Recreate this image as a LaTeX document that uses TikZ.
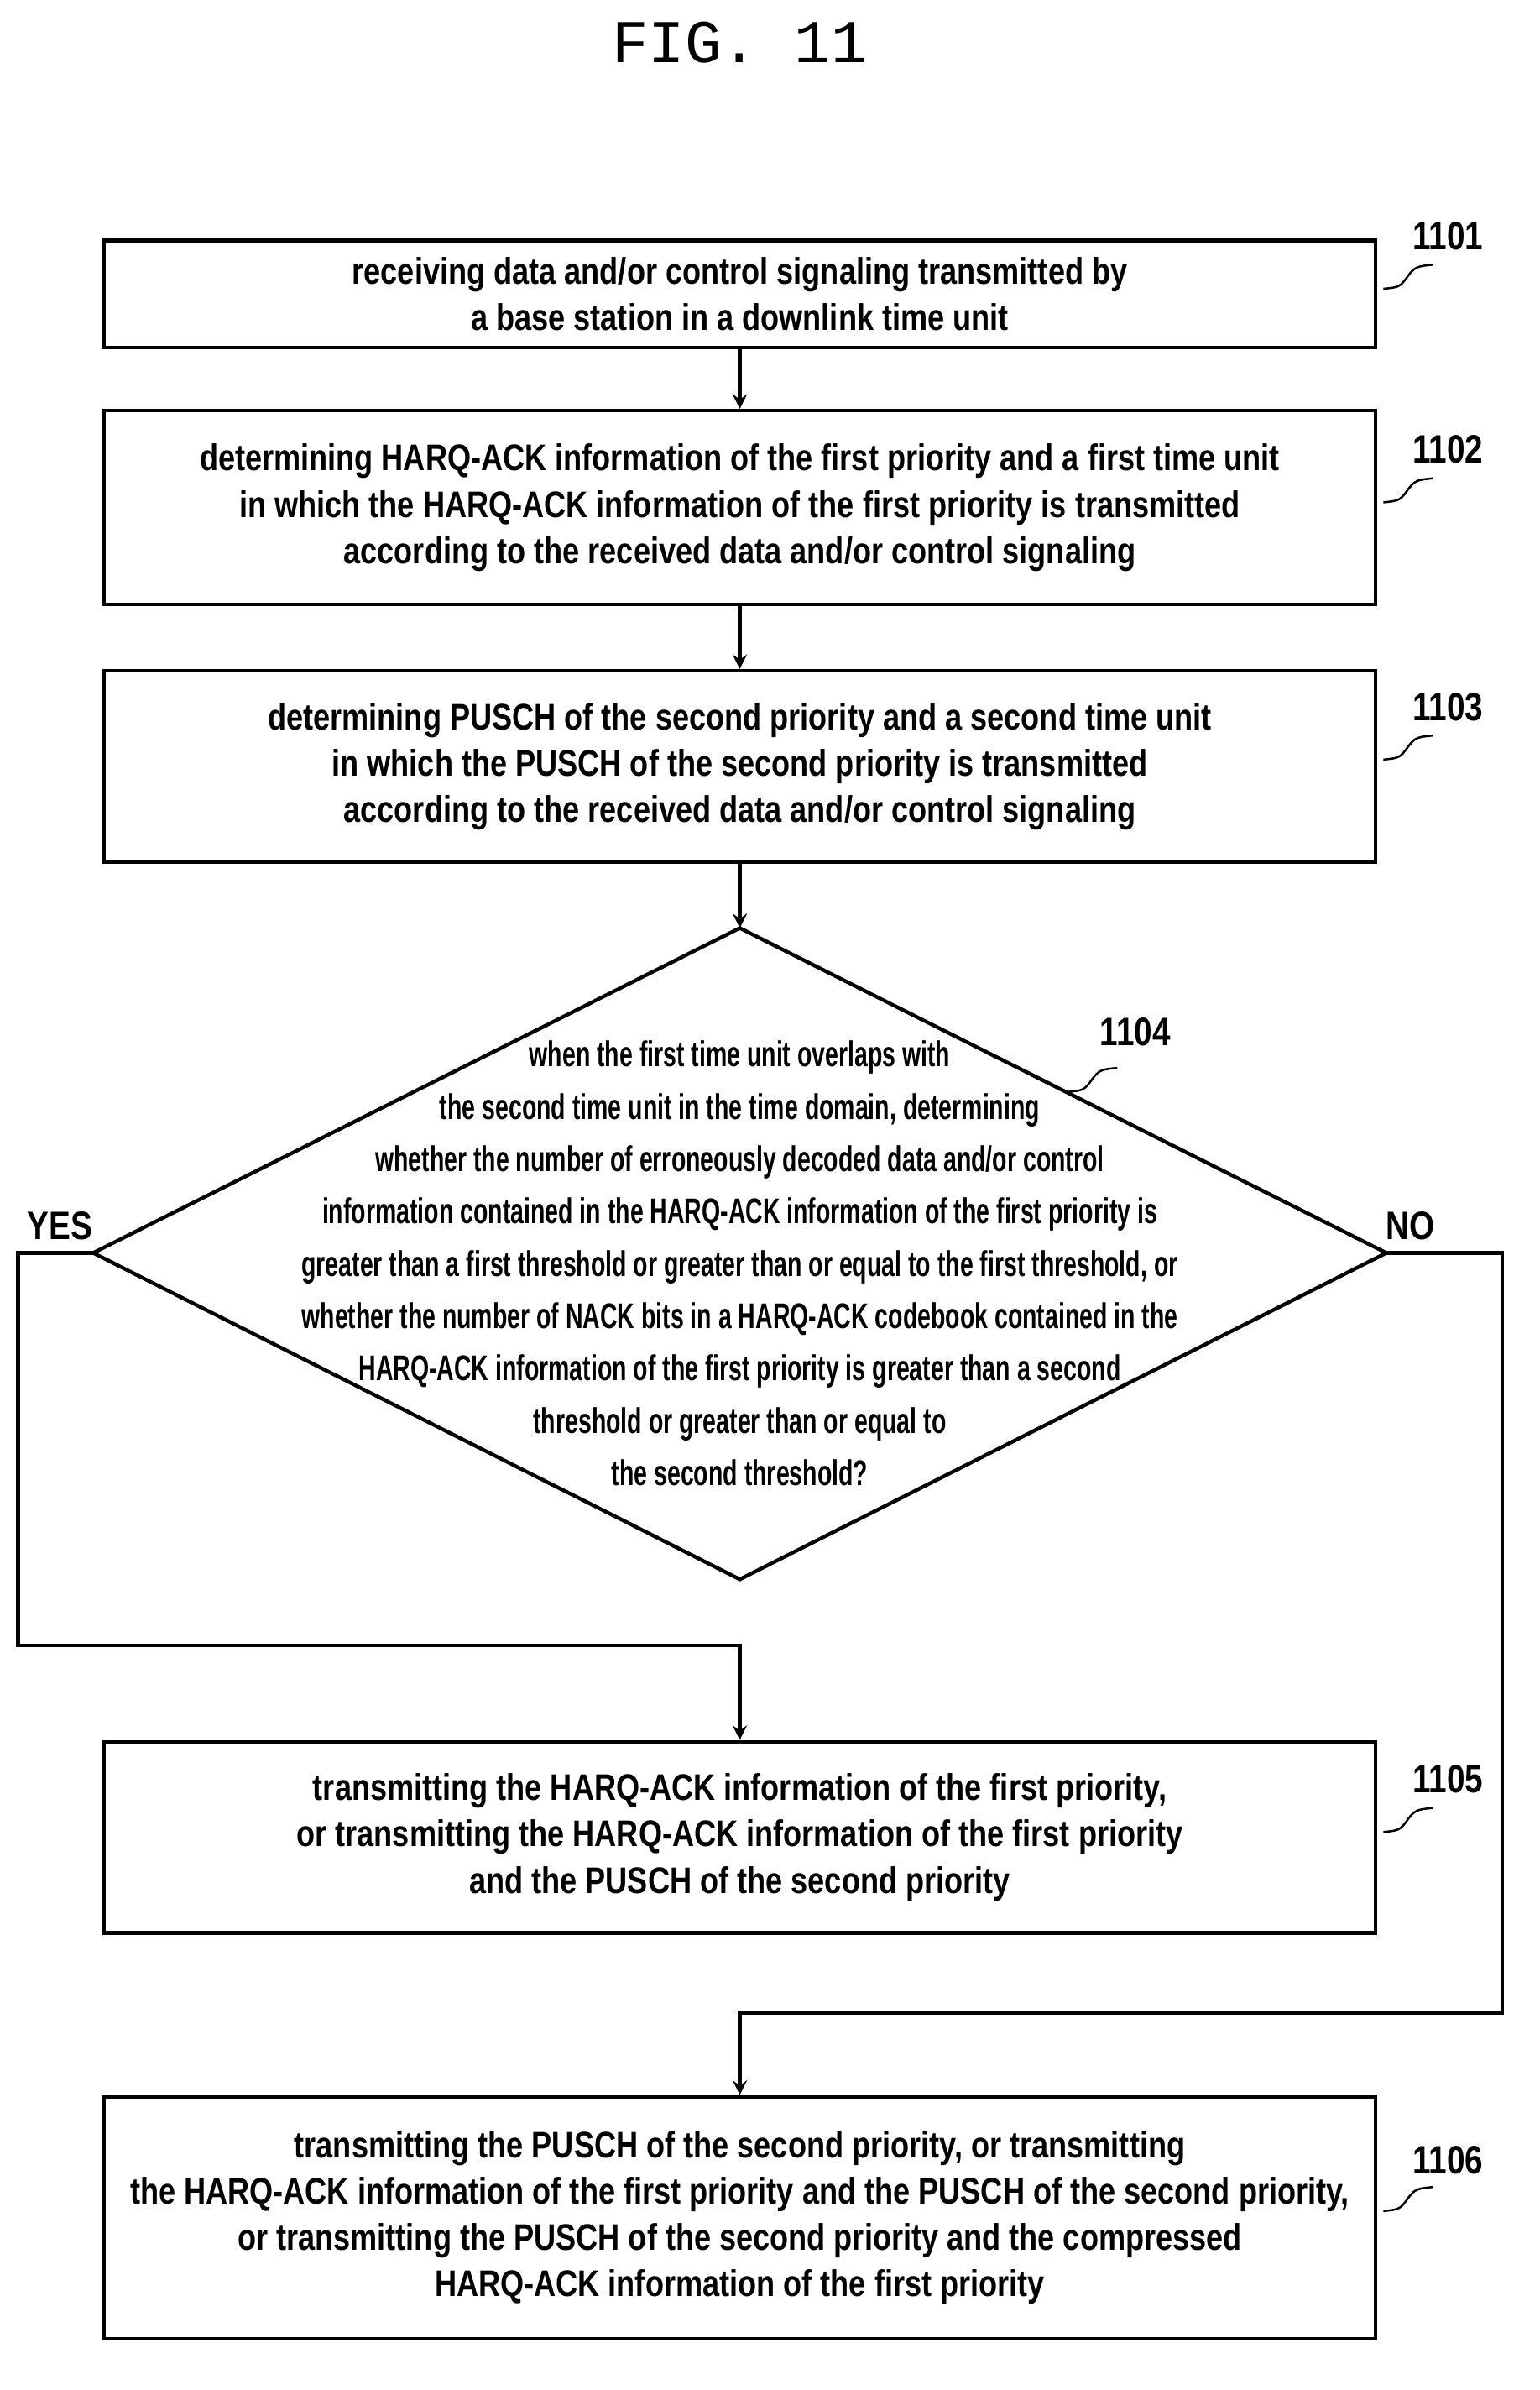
\documentclass[tikz,border=0pt]{standalone}
\usepackage{fontspec}
\setmainfont{Liberation Sans}[FakeStretch=0.82]
\newfontfamily\narrowfont{Liberation Sans}[FakeStretch=0.67]
\newfontfamily\figfont{Liberation Mono}
\usetikzlibrary{positioning}
\tikzset{
every picture/.style={line width=1.4pt, >=stealth},
%%%%%%%%%% Node styles
stepbox/.style={draw, rectangle, minimum width=16.92cm, align=center,
                font=\fontsize{14}{17.5}\selectfont\bfseries, inner sep=0pt},
asktext/.style={align=center, font=\narrowfont\fontsize{13.5}{19.8}\selectfont\bfseries},
steplabel/.style={font=\fontsize{15}{17}\selectfont\bfseries, inner sep=0pt},
flow/.style={->, shorten >=0pt},
}
\newcommand{\squiggle}[1]{%
\draw[line width=0.8pt] (#1) .. controls +(10,-1) and +(-5,7) .. ++(16,-8)
	.. controls +(5,-7) and +(-10,1) .. ++(17,-8);}
\begin{document}
\begin{tikzpicture}[x=0.02cm,y=-0.02cm]
\useasboundingbox (0,0) rectangle (1024,1589);
\node[font=\figfont\fontsize{23}{26}\selectfont] (title) at (492,28) {FIG. 11};
%%step boxes
\node[stepbox, minimum height=1.42cm] (s1) at (492,195.5)
	{receiving data and/or control signaling transmitted by\\a base station in a downlink time unit};
\node[stepbox, minimum height=2.58cm] (s2) at (492,337.5)
	{determining HARQ-ACK information of the first priority and a first time unit\\in which the HARQ-ACK information of the first priority is transmitted\\according to the received data and/or control signaling};
\node[stepbox, minimum height=2.54cm] (s3) at (492,509.5)
	{determining PUSCH of the second priority and a second time unit\\in which the PUSCH of the second priority is transmitted\\according to the received data and/or control signaling};
\node[stepbox, minimum height=2.54cm] (s5) at (492,1221.5)
	{transmitting the HARQ-ACK information of the first priority,\\or transmitting the HARQ-ACK information of the first priority\\and the PUSCH of the second priority};
\node[stepbox, minimum height=3.22cm] (s6) at (492,1474.5)
	{transmitting the PUSCH of the second priority, or transmitting\\the HARQ-ACK information of the first priority and the PUSCH of the second priority,\\or transmitting the PUSCH of the second priority and the compressed\\HARQ-ACK information of the first priority};
%%decision diamond
\coordinate (dtop) at (492,617);
\coordinate (dbot) at (492,1050);
\coordinate (dleft) at (62,833);
\coordinate (dright) at (922,833);
\draw (dtop) -- (dright) -- (dbot) -- (dleft) -- cycle;
\node[asktext] (ask) at (492,840)
	{when the first time unit overlaps with\\the second time unit in the time domain, determining\\whether the number of erroneously decoded data and/or control\\information contained in the HARQ-ACK information of the first priority is\\greater than a first threshold or greater than or equal to the first threshold, or\\whether the number of NACK bits in a HARQ-ACK codebook contained in the\\HARQ-ACK information of the first priority is greater than a second\\threshold or greater than or equal to\\the second threshold?};
%%step labels
\node[steplabel] (n1) at (963,157) {1101};
\node[steplabel] (n2) at (963,299) {1102};
\node[steplabel] (n3) at (963,470) {1103};
\node[steplabel] (n4) at (755,686) {1104};
\node[steplabel] (n5) at (963,1183) {1105};
\node[steplabel] (n6) at (963,1436) {1106};
\squiggle{920,192}
\squiggle{920,334}
\squiggle{920,505}
\squiggle{710,726}
\squiggle{920,1218}
\squiggle{920,1470}
%%branch labels
\node[steplabel] (yes) at (40,815) {YES};
\node[steplabel] (no) at (938,815) {NO};
%%connectors
\draw[flow] (s1) -- (s2);
\draw[flow] (s2) -- (s3);
\draw[flow] (s3) -- (dtop);
\coordinate (yturn) at (12,1094);
\coordinate (nturn) at (999,1338);
\draw[flow] (dleft) -- (12,833) -- (yturn) -| (s5.north);
\draw[flow] (dright) -- (999,833) -- (nturn) -| (s6.north);
\end{tikzpicture}
\end{document}
